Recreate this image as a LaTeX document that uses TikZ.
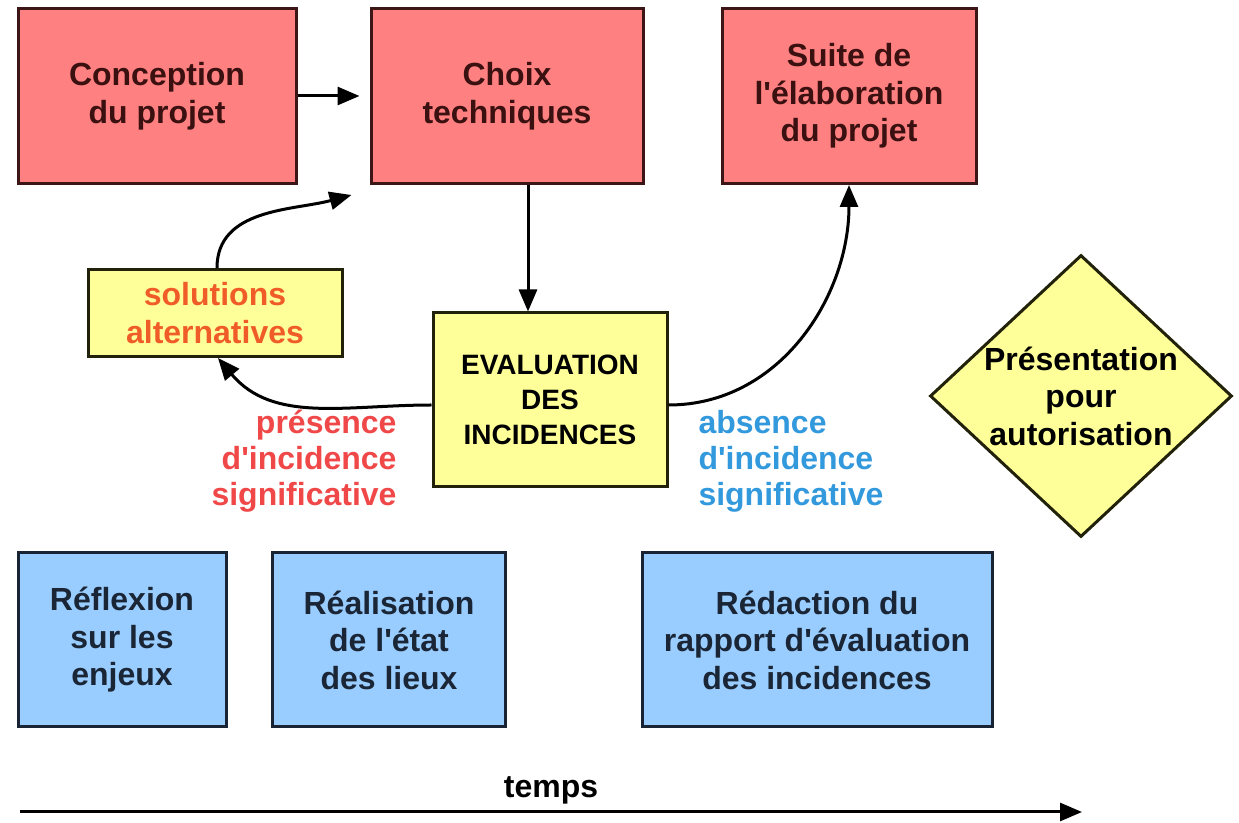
\documentclass[tikz,border=0pt]{standalone}
\usepackage{fontspec}
\setmainfont{Liberation Sans}
\usetikzlibrary{shapes.geometric,arrows.meta}

\definecolor{redfill}{RGB}{255,128,128}
\definecolor{redline}{RGB}{60,22,22}
\definecolor{redtext}{RGB}{58,16,16}
\definecolor{yellowfill}{RGB}{255,255,153}
\definecolor{yellowline}{RGB}{34,34,10}
\definecolor{bluefill}{RGB}{153,204,255}
\definecolor{blueline}{RGB}{24,36,52}
\definecolor{bluetext}{RGB}{26,37,53}
\definecolor{presred}{RGB}{240,72,72}
\definecolor{solorange}{RGB}{240,92,40}
\definecolor{absblue}{RGB}{51,153,221}

\begin{document}
\begin{tikzpicture}
        [x=0.5pt,y=-0.5pt,line width=1.5pt,>={Triangle[length=11pt,width=9pt]},
        every node/.style={font=\bfseries\fontsize{16pt}{18.75pt}\selectfont,align=center,inner sep=0},
        redbox/.style={draw=redline,fill=redfill,text=redtext,minimum height=87.5pt},
        yellowbox/.style={draw=yellowline,fill=yellowfill},
        bluebox/.style={draw=blueline,fill=bluefill,text=bluetext,minimum height=87pt}]

        \useasboundingbox (0,0) rectangle (1239,823);

        % project steps
        \node[redbox,minimum width=139pt] (conception) at (157,96) {Conception\\du projet};
        \node[redbox,minimum width=136pt] (choix) at (507,96) {Choix\\techniques};
        \node[redbox,minimum width=127pt] (suite) at (849,96) {Suite de\\l\textquotesingle élaboration\\du projet};

        \node[yellowbox,text=solorange,minimum width=127pt,minimum height=43.5pt] (solutions) at (215,313) {solutions\\alternatives};
        \node[yellowbox,text=black,minimum width=117pt,minimum height=87pt,
              font=\bfseries\fontsize{14pt}{17.5pt}\selectfont] (evaluation) at (550,400) {EVALUATION\\DES\\INCIDENCES};

        \node[yellowbox,shape=diamond,minimum width=151pt,minimum height=141pt] (autorisation) at (1081,396) {};
        \node[text=black] (autorisationtxt) at (autorisation) {Présentation\\pour\\autorisation};

        \node[anchor=east,align=right,text=presred,font=\bfseries\fontsize{16pt}{18pt}\selectfont] (presence) at (398,461) {présence\\d\textquotesingle incidence\\significative};
        \node[anchor=west,align=left,text=absblue,font=\bfseries\fontsize{16pt}{18pt}\selectfont] (absence) at (697,461) {absence\\d\textquotesingle incidence\\significative};

        % evaluation steps
        \node[bluebox,minimum width=104pt] (reflexion) at (122,640) {Réflexion\\sur les\\enjeux};
        \node[bluebox,minimum width=116.5pt] (realisation) at (389,640) {Réalisation\\de l\textquotesingle état\\des lieux};
        \node[bluebox,minimum width=175pt] (redaction) at (817,640) {Rédaction du\\rapport d\textquotesingle évaluation\\des incidences};

        \coordinate (t0) at (20,812);
        \coordinate (t1) at (1082,812);

        \draw[->,shorten >=5pt] (conception) -- (choix);
        \draw[->] ([xshift=10.5pt]choix.south) -- ([xshift=10.5pt]choix.south |- evaluation.north);
        \draw[->] ([yshift=-2.5pt]evaluation.west) to[out=180,in=-50] ([xshift=1.5pt]solutions.south);
        \draw[->] ([xshift=1pt]solutions.north) to[out=90,in=195] ([xshift=-9pt,yshift=-5pt]choix.south west);
        \draw[->] ([yshift=-2.5pt]evaluation.east) to[out=0,in=-90] (suite.south);
        \draw[->] (t0) -- (t1) node[midway,above=3pt,text=black] (temps) {temps};
      \end{tikzpicture}
\end{document}
